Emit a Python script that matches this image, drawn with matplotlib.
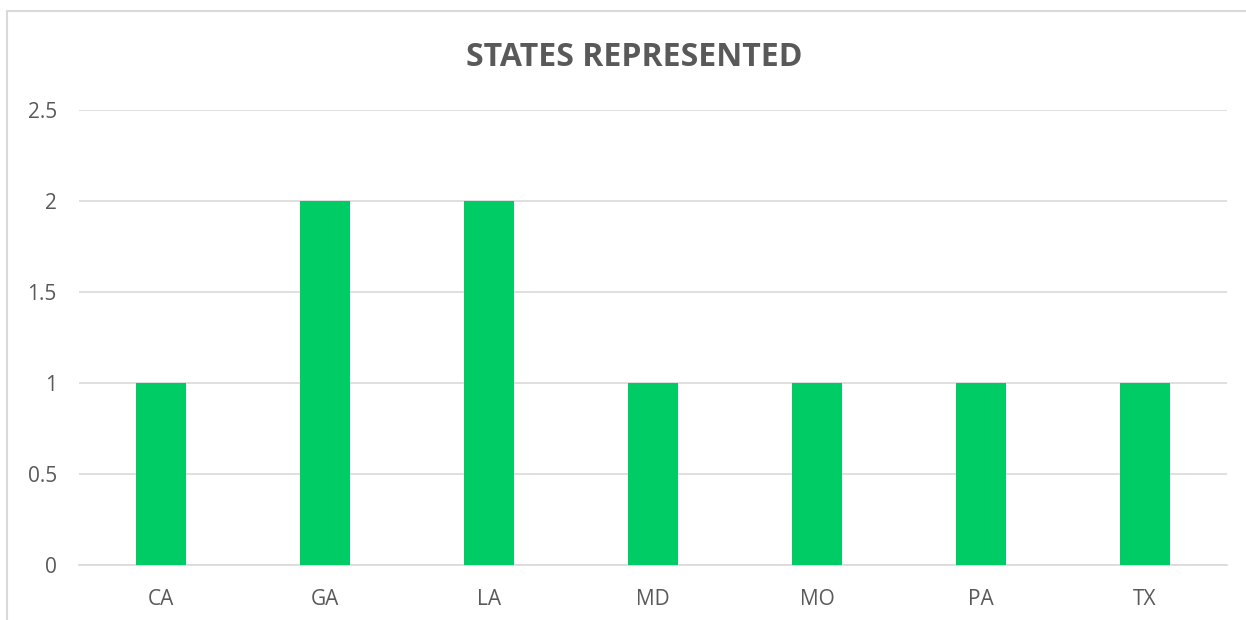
import matplotlib.pyplot as plt
from matplotlib.patches import Rectangle

states = ["CA", "GA", "LA", "MD", "MO", "PA", "TX"]
counts = [1, 2, 2, 1, 1, 1, 1]
yticks = [0, 0.5, 1, 1.5, 2, 2.5]
ytick_labels = ["0", "0.5", "1", "1.5", "2", "2.5"]

plt.rcParams["font.family"] = ["Open Sans", "DejaVu Sans"]
text_color = "#595959"

fig = plt.figure(figsize=(12.46, 6.2), dpi=100)
ax = fig.add_axes([0.0634, 0.0887, 0.9214, 0.7339])

# chart frame
fig.patches.append(Rectangle((7 / 1246, -0.05), 1.0, 1 - 11 / 620 + 0.05,
                             transform=fig.transFigure, fill=False,
                             edgecolor="#d9d9d9", linewidth=1.5))

x = range(len(states))
ax.bar(x, counts, width=0.305, color="#00cc66", zorder=3)

ax.set_xlim(-0.5, len(states) - 0.5)
ax.set_ylim(0, 2.5)
ax.set_yticks(yticks)
ax.set_yticklabels(ytick_labels)
ax.set_xticks(list(x))
ax.set_xticklabels(states)
ax.tick_params(length=0, labelsize=15, colors=text_color)
ax.tick_params(axis="y", pad=16)
ax.tick_params(axis="x", pad=17.5)
ax.grid(axis="y", color="#d9d9d9", linewidth=1.2, zorder=0)
for s in ["top", "right", "left"]:
    ax.spines[s].set_visible(False)
ax.spines["bottom"].set_color("#d9d9d9")
ax.spines["bottom"].set_linewidth(1.2)

fig.text(0.5 + 11 / 1246, 1 - 57 / 620, "STATES REPRESENTED", ha="center", va="center",
         fontsize=23, fontweight="bold", color=text_color)

fig.savefig("out.png", dpi=100)
